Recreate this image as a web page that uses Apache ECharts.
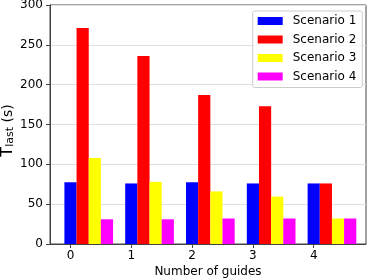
<!DOCTYPE html>
<html>
<head>
<meta charset="utf-8">
<script src="https://cdn.jsdelivr.net/npm/echarts@6/dist/echarts.min.js"></script>
<style>
html,body{margin:0;padding:0;background:#fff;}
#chart{width:374px;height:278px;}
</style>
</head>
<body>
<div id="chart"></div>
<script>
const categories = [0, 1, 2, 3, 4];
const seriesNames = ['Scenario 1', 'Scenario 2', 'Scenario 3', 'Scenario 4'];
const scenario1 = [77.5, 76, 77.5, 76, 76];
const scenario2 = [271, 236, 187, 173, 76];
const scenario3 = [108, 78, 66, 59.5, 32];
const scenario4 = [31, 31, 32, 32, 32];
const yTicks = [0, 50, 100, 150, 200, 250, 300];
const colors = ['#0000ff', '#ff0000', '#ffff00', '#ff00ff'];
const allValues = [scenario1, scenario2, scenario3, scenario4];
const offsetStep = 0.2;

const font = 'DejaVu Sans';
const axisColor = '#444';

const series = allValues.map((vals, k) => ({
  name: seriesNames[k],
  type: 'bar',
  barWidth: 12.2,
  barGap: '-100%',
  itemStyle: { color: colors[k] },
  data: categories.map((c, i) => [c + k * offsetStep, vals[i]])
}));

const chart = echarts.init(document.getElementById('chart'), null, { renderer: 'canvas' });
chart.setOption({
  animation: false,
  textStyle: { fontFamily: font },
  grid: {
    left: 50, right: 8, top: 5, bottom: 34,
    containLabel: false,
    outerBoundsMode: 'none',
    show: true, borderColor: axisColor, borderWidth: 1, backgroundColor: 'transparent'
  },
  legend: {
    orient: 'vertical',
    left: 252.7, top: 11,
    padding: [3, 6, 4, 5],
    itemWidth: 25, itemHeight: 8,
    itemGap: 4.5,
    icon: 'rect',
    borderColor: '#cccccc', borderWidth: 1, borderRadius: 2,
    backgroundColor: 'rgba(255,255,255,0.8)',
    textStyle: { fontFamily: font, fontSize: 12, color: '#000', lineHeight: 14, padding: [0, 0, 0, 5] },
    data: seriesNames
  },
  xAxis: {
    type: 'value',
    min: -0.337, max: 4.86,
    name: 'Number of guides',
    nameLocation: 'middle',
    nameGap: 22,
    nameMoveOverlap: false,
    nameTextStyle: { fontFamily: font, fontSize: 12, color: '#000' },
    axisLine: { show: true, onZero: false, lineStyle: { color: axisColor, width: 1 } },
    axisTick: { show: true, length: 4, lineStyle: { color: axisColor }, customValues: categories },
    axisLabel: { fontFamily: font, fontSize: 12, color: '#000', margin: 6, customValues: categories },
    splitLine: { show: false }
  },
  yAxis: {
    type: 'value',
    min: 0, max: 300, interval: 50,
    name: '{t|T}{s|last}{p| (s)}',
    nameLocation: 'middle',
    nameGap: 34,
    nameMoveOverlap: false,
    nameTextStyle: {
      fontFamily: font, color: '#000',
      padding: [0, 12, 0, 0],
      rich: {
        t: { fontFamily: font, fontSize: 16, color: '#000', lineHeight: 16, verticalAlign: 'middle' },
        s: { fontFamily: font, fontSize: 11, color: '#000', lineHeight: 16, verticalAlign: 'bottom' },
        p: { fontFamily: font, fontSize: 14, color: '#000', lineHeight: 16, verticalAlign: 'middle' }
      }
    },
    axisLine: { show: true, onZero: false, lineStyle: { color: axisColor, width: 1 } },
    axisTick: { show: true, length: 4, lineStyle: { color: axisColor } },
    axisLabel: { fontFamily: font, fontSize: 12, color: '#000', margin: 7 },
    splitLine: { show: true, lineStyle: { color: '#e0e0e0', width: 1 } }
  },
  series: series
});
</script>
</body>
</html>
